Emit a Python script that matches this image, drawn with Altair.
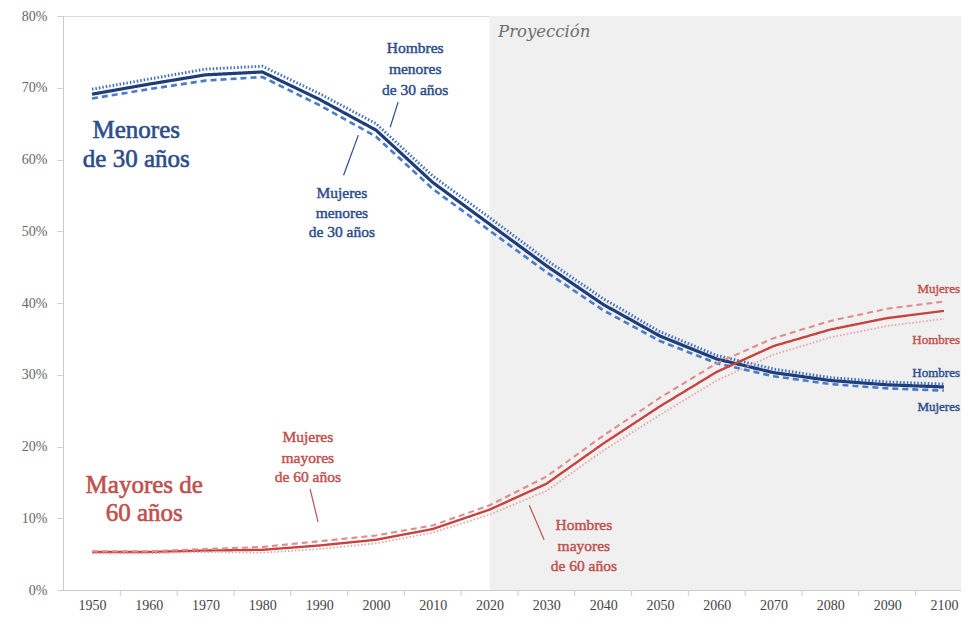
import altair as alt
import pandas as pd

years = [1950, 1960, 1970, 1980, 1990, 2000, 2010, 2020, 2030, 2040, 2050, 2060, 2070, 2080, 2090, 2100]

u30_total = [69.1, 70.5, 71.8, 72.2, 68.4, 64.1, 56.8, 51.0, 45.2, 39.8, 35.4, 32.2, 30.3, 29.2, 28.6, 28.3]
u30_men   = [69.8, 71.2, 72.6, 73.0, 69.2, 65.0, 57.7, 51.9, 46.0, 40.6, 36.0, 32.7, 30.8, 29.6, 29.0, 28.7]
u30_women = [68.5, 69.8, 71.0, 71.5, 67.6, 63.2, 55.9, 50.1, 44.3, 39.0, 34.7, 31.6, 29.8, 28.7, 28.1, 27.8]

o60_total = [5.3, 5.3, 5.5, 5.6, 6.2, 7.0, 8.5, 11.2, 14.8, 20.4, 25.6, 30.4, 34.0, 36.3, 37.9, 38.9]
o60_women = [5.4, 5.4, 5.7, 6.0, 6.8, 7.6, 9.0, 11.8, 15.8, 21.5, 26.8, 31.6, 35.1, 37.5, 39.2, 40.2]
o60_men   = [5.1, 5.1, 5.3, 5.2, 5.7, 6.5, 8.0, 10.5, 13.8, 19.4, 24.4, 29.2, 32.8, 35.2, 36.8, 37.8]

series_names = ["u30_total", "u30_men", "u30_women", "o60_total", "o60_women", "o60_men"]
series_vals = [u30_total, u30_men, u30_women, o60_total, o60_women, o60_men]
series_colors = ["#1f3d7a", "#3f6fbf", "#4a7cc8", "#c8413c", "#e08c8c", "#e6a3a3"]
series_dash = [[1, 0], [1.5, 2], [6, 4], [1, 0], [6, 4], [1.5, 2]]
series_width = [3.2, 1.8, 2.0, 3.0, 2.0, 1.8]

x_min, x_max = 1944.9, 2103.0
proj_start = 2020

tick_mid = [1955, 1965, 1975, 1985, 1995, 2005, 2015, 2025, 2035, 2045, 2055, 2065, 2075, 2085, 2095]

# big group labels
big_text  = ["Menores", "de 30 años", "Mayores de", "60 años"]
big_year  = [1957.8, 1957.8, 1959.2, 1959.2]
big_value = [0.641, 0.601, 0.146, 0.107]
big_color = ["#2c4c8a", "#2c4c8a", "#c0504d", "#c0504d"]

# small series labels
small_text  = ["Hombres", "menores", "de 30 años",
               "Mujeres", "menores", "de 30 años",
               "Mujeres", "mayores", "de 60 años",
               "Hombres", "mayores", "de 60 años"]
small_year  = [2006.9, 2006.9, 2006.9,
               1994.0, 1994.0, 1994.0,
               1988.0, 1988.0, 1988.0,
               2036.6, 2036.6, 2036.6]
small_value = [0.755, 0.726, 0.697,
               0.553, 0.525, 0.499,
               0.213, 0.184, 0.157,
               0.091, 0.062, 0.034]
small_color = ["#2c4c8a"] * 6 + ["#c0504d"] * 6

# right-edge labels (right aligned)
end_text  = ["Mujeres", "Hombres", "Hombres", "Mujeres"]
end_value = [0.420, 0.348, 0.302, 0.255]
end_color = ["#c0504d", "#c0504d", "#2c4c8a", "#2c4c8a"]

# leader lines
lead_year  = [2003.9, 1996.9, 1988.4, 2027.0]
lead_value = [0.680, 0.634, 0.141, 0.118]
lead_year2 = [2002.5, 1994.3, 1989.8, 2029.6]
lead_value2 = [0.645, 0.578, 0.095, 0.070]
lead_color = ["#2c4c8a", "#2c4c8a", "#c0504d", "#c0504d"]

rows = []
for name, vals in zip(series_names, series_vals):
    for y, v in zip(years, vals):
        rows.append({"year": y, "value": v / 100.0, "series": name})
df = pd.DataFrame(rows)

FONT = "Liberation Serif"
W, H = 898, 574

xscale = alt.Scale(domain=[x_min, x_max], nice=False, zero=False)
yscale = alt.Scale(domain=[0, 0.8], nice=False)

shade = alt.Chart(pd.DataFrame({"x": [proj_start], "x2": [x_max], "y": [0.8], "y2": [0.0]})).mark_rect(
    color="#f0f0f0"
).encode(
    x=alt.X("x:Q", scale=xscale,
            axis=alt.Axis(values=years, format="d", ticks=False, grid=False, domainColor="#cccccc",
                          labelFont=FONT, labelFontSize=14, labelColor="#444444", labelPadding=8,
                          title=None)),
    x2="x2:Q",
    y=alt.Y("y:Q", scale=yscale,
            axis=alt.Axis(values=[0, 0.1, 0.2, 0.3, 0.4, 0.5, 0.6, 0.7, 0.8], format=".0%", grid=False,
                          tickSize=6, tickColor="#cccccc", domainColor="#cccccc",
                          labelFont=FONT, labelFontSize=14, labelColor="#666666", labelPadding=10,
                          title=None)),
    y2="y2:Q",
)

proj = alt.Chart(pd.DataFrame({"x": [2021.5], "y": [0.778], "t": ["Proyección"]})).mark_text(
    font="DejaVu Serif", fontSize=16.5, fontStyle="italic", color="#6e6e6e", align="left", baseline="middle"
).encode(x=alt.X("x:Q", scale=xscale), y=alt.Y("y:Q", scale=yscale), text="t:N")

ticks = alt.Chart(pd.DataFrame({"x": tick_mid})).mark_rule(color="#cccccc", strokeWidth=1).encode(
    x=alt.X("x:Q", scale=xscale), y=alt.value(H), y2=alt.value(H + 6)
)

lines = alt.Chart(df).mark_line(strokeCap="butt").encode(
    x=alt.X("year:Q", scale=xscale),
    y=alt.Y("value:Q", scale=yscale),
    detail="series:N",
    color=alt.Color("series:N", scale=alt.Scale(domain=series_names, range=series_colors), legend=None),
    strokeDash=alt.StrokeDash("series:N", scale=alt.Scale(domain=series_names, range=series_dash), legend=None),
    strokeWidth=alt.StrokeWidth("series:N", scale=alt.Scale(domain=series_names, range=series_width), legend=None),
    order=alt.Order("year:Q"),
)

big_df = pd.DataFrame({"t": big_text, "x": big_year, "y": big_value, "c": big_color})
big = alt.Chart(big_df).mark_text(font=FONT, fontSize=25, align="center", baseline="middle",
                                  strokeWidth=0.6).encode(
    x=alt.X("x:Q", scale=xscale), y=alt.Y("y:Q", scale=yscale), text="t:N",
    color=alt.Color("c:N", scale=None), stroke=alt.Stroke("c:N", scale=None),
)

small_df = pd.DataFrame({"t": small_text, "x": small_year, "y": small_value, "c": small_color})
small = alt.Chart(small_df).mark_text(font=FONT, fontSize=15.5, align="center", baseline="middle",
                                      strokeWidth=0.45).encode(
    x=alt.X("x:Q", scale=xscale), y=alt.Y("y:Q", scale=yscale), text="t:N",
    color=alt.Color("c:N", scale=None), stroke=alt.Stroke("c:N", scale=None),
)

end_df = pd.DataFrame({"t": end_text, "y": end_value, "c": end_color})
ends = alt.Chart(end_df).mark_text(font=FONT, fontSize=13, align="right", baseline="middle",
                                   strokeWidth=0.4).encode(
    x=alt.value(W - 1), y=alt.Y("y:Q", scale=yscale), text="t:N",
    color=alt.Color("c:N", scale=None), stroke=alt.Stroke("c:N", scale=None),
)

lead_df = pd.DataFrame({"x": lead_year, "y": lead_value, "x2": lead_year2, "y2": lead_value2, "c": lead_color})
leads = alt.Chart(lead_df).mark_rule(strokeWidth=1.2).encode(
    x=alt.X("x:Q", scale=xscale), y=alt.Y("y:Q", scale=yscale), x2="x2:Q", y2="y2:Q",
    color=alt.Color("c:N", scale=None),
)

chart = alt.layer(shade, proj, ticks, lines, leads, big, small, ends).properties(
    width=W, height=H,
    autosize=alt.AutoSizeParams(type="none"),
    padding={"left": 55, "top": 8, "right": 0, "bottom": 26},
).configure_view(stroke=None).configure(background="white")

chart.save("out.html", embed_options={"renderer": "svg", "actions": False})
